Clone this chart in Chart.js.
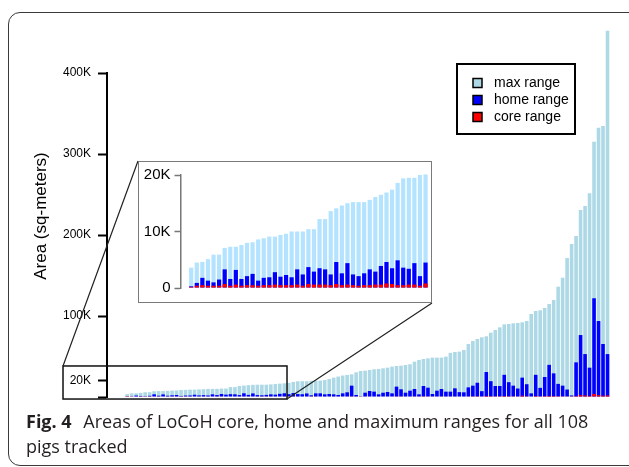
<!DOCTYPE html>
<html>
<head>
<meta charset="utf-8">
<script src="https://cdn.jsdelivr.net/npm/chart.js@4.4.1/dist/chart.umd.min.js"></script>
<style>
  html, body { margin: 0; padding: 0; width: 629px; height: 467px; overflow: hidden; background: #fff; }
  #frame { position: absolute; left: 8px; top: 12px; width: 640px; height: 452px; border: 1px solid #3a3a3a; border-radius: 12px; }
  #main { position: absolute; left: 0; top: 0; }
  #insetBox { position: absolute; left: 138px; top: 161px; width: 294px; height: 142px; box-sizing: border-box; border: 1.5px solid #7a7a7a; background: #fff; }
  #inset { position: absolute; left: 0; top: 0; }
  #caption { position: absolute; left: 26px; top: 409px; width: 600px; font-family: "Open Sans", sans-serif; font-size: 18px; line-height: 25px; color: #231f20; }
  #caption b { font-weight: 700; margin-right: 7px; }
</style>
</head>
<body>
<div id="frame"></div>
<canvas id="main" width="629" height="467"></canvas>
<div id="insetBox"><canvas id="inset" width="291" height="139"></canvas></div>
<div id="caption"><b>Fig. 4</b> Areas of LoCoH core, home and maximum ranges for all 108<br>pigs tracked</div>
<script>
// pigs ranked by max range (1..108)
const PIG_RANK = Array.from({ length: 108 }, (_, i) => i + 1);

// areas in sq-meters
const maxRange = [
  3600, 4500, 4600, 5100, 5900, 5900, 7100, 7300, 7300, 7600,
  8000, 8100, 8600, 8800, 9100, 9100, 9400, 9600, 10000, 10000,
  10000, 10400, 10400, 12200, 12200, 13600, 14100, 14600, 15000, 15200,
  15200, 15200, 15600, 16100, 16500, 16900, 17400, 18600, 19400, 19500,
  19500, 20000, 20100, 20300, 20900, 22200, 23900, 25200, 26500, 27200,
  28000, 30500, 32100, 32500, 33300, 34200, 34600, 35400, 36200, 37500,
  38300, 38700, 39500, 40400, 43600, 45700, 46900, 47700, 48600, 48600,
  48600, 49800, 54500, 55500, 56000, 58000, 65400, 69100, 71600, 73700,
  74900, 79400, 82700, 86000, 89700, 90100, 91000, 91400, 92200, 93800,
  102500, 106200, 107000, 109900, 114800, 119800, 136200, 147300, 171600, 188900,
  198800, 230900, 235800, 251400, 315200, 332500, 334600, 452300
];
const homeRange = [
  300, 900, 1800, 1300, 1000, 1500, 3300, 1600, 3200, 1600,
  2100, 2500, 1300, 1800, 1900, 2800, 2000, 2300, 1900, 3300,
  2400, 3700, 2900, 3500, 3300, 2400, 4600, 2600, 4400, 2400,
  2100, 2600, 3300, 2900, 3900, 4600, 3500, 4900, 3600, 3400,
  4400, 2100, 4500, 4500, 3300, 3700, 3300, 2500, 4500, 5800,
  14000, 2500, 400, 5300, 7400, 6600, 3300, 5300, 6200, 4500,
  12800, 9500, 5300, 7800, 9900, 3300, 13600, 11500, 3700, 7800,
  9900, 6600, 6600, 10700, 6000, 5800, 11900, 14000, 17600, 7200,
  30900, 19500, 13600, 13600, 27400, 18300, 14000, 10500, 23900, 15800,
  4500, 27400, 11300, 24700, 39700, 29200, 16200, 14000, 9200, 1900,
  42800, 76500, 53000, 36200, 121900, 93800, 65400, 53000
];
const coreRange = [
  200, 400, 500, 400, 400, 400, 700, 400, 600, 400,
  500, 500, 400, 500, 500, 600, 500, 500, 500, 600,
  400, 700, 600, 600, 600, 500, 700, 500, 600, 500,
  400, 500, 500, 600, 600, 800, 700, 500, 500, 600,
  600, 400, 800, 600, 500, 600, 500, 500, 600, 700,
  900, 500, 300, 600, 700, 600, 500, 600, 700, 600,
  900, 800, 600, 700, 800, 500, 900, 800, 500, 700,
  800, 700, 700, 800, 600, 600, 800, 900, 1000, 700,
  1300, 1000, 900, 900, 1200, 1000, 900, 800, 1600, 1000,
  600, 1200, 900, 1100, 1400, 1200, 1000, 900, 800, 400,
  1300, 2200, 1900, 1400, 3800, 2200, 1600, 2000
];

const SERIES_LABELS = ['max range', 'home range', 'core range'];
const MAIN_TICKS = [0, 20000, 100000, 200000, 300000, 400000];
const INSET_TICKS = [0, 10000, 20000];
const INSET_COUNT = 43;

const MAIN_COLORS = ['#add8e6', '#0000ff', '#ff0000'];
const INSET_COLORS = ['#b3e3ff', '#0000ff', '#ff0000'];

// zoom rectangle on the main chart, in main-chart data units
const ZOOM_RECT = { x0: -13.3, x1: 36.6, y0: -2500, y1: 38300 };

function makeDatasets(n, colors) {
  const series = [maxRange, homeRange, coreRange];
  return series.map((s, i) => ({
    label: SERIES_LABELS[i],
    data: s.slice(0, n).map((y, j) => ({ x: PIG_RANK[j], y: y })),
    backgroundColor: colors[i],
    borderWidth: 0,
    grouped: false,
    clip: false,
    order: 3 - i
  }));
}

const zoomPlugin = {
  id: 'zoomRect',
  afterDatasetsDraw(chart) {
    const { ctx, scales: { x, y } } = chart;
    const l = x.getPixelForValue(ZOOM_RECT.x0);
    const r = x.getPixelForValue(ZOOM_RECT.x1);
    const t = y.getPixelForValue(ZOOM_RECT.y1);
    const b = y.getPixelForValue(ZOOM_RECT.y0);
    const box = document.getElementById('insetBox').getBoundingClientRect();
    const cv = chart.canvas.getBoundingClientRect();
    ctx.save();
    ctx.strokeStyle = '#111';
    ctx.lineWidth = 1.5;
    ctx.strokeRect(l, t, r - l, b - t);
    ctx.lineWidth = 1.2;
    ctx.strokeStyle = '#222';
    ctx.beginPath();
    ctx.moveTo(l, t);
    ctx.lineTo(box.left - cv.left, box.top - cv.top);
    ctx.moveTo(r, b);
    ctx.lineTo(box.right - cv.left, box.bottom - cv.top);
    ctx.stroke();
    ctx.restore();
  }
};

const legendPlugin = {
  id: 'boxLegend',
  afterDraw(chart) {
    const ctx = chart.ctx;
    const bx = 457, by = 64, bw = 118, bh = 70;
    ctx.save();
    ctx.fillStyle = '#fff';
    ctx.fillRect(bx, by, bw, bh);
    ctx.strokeStyle = '#000';
    ctx.lineWidth = 2;
    ctx.strokeRect(bx, by, bw, bh);
    ctx.font = '14px "Liberation Sans", Arial, sans-serif';
    ctx.textBaseline = 'middle';
    chart.data.datasets.forEach((ds, i) => {
      const cy = by + 19 + i * 17;
      ctx.fillStyle = ds.backgroundColor;
      ctx.fillRect(bx + 16, cy - 4.5, 9, 9);
      ctx.lineWidth = 1.5;
      ctx.strokeRect(bx + 16, cy - 4.5, 9, 9);
      ctx.fillStyle = '#000';
      ctx.fillText(ds.label, bx + 37, cy);
    });
    ctx.restore();
  }
};

const yTitlePlugin = {
  id: 'yTitle',
  afterDraw(chart) {
    const ctx = chart.ctx;
    ctx.save();
    ctx.translate(41, 216);
    ctx.rotate(-Math.PI / 2);
    ctx.font = '17px "Liberation Sans", Arial, sans-serif';
    ctx.fillStyle = '#000';
    ctx.textAlign = 'center';
    ctx.textBaseline = 'middle';
    ctx.fillText('Area (sq-meters)', 0, 0);
    ctx.restore();
  }
};

function kLabel(v) {
  return v === 0 ? '' : (v / 1000) + 'K';
}

new Chart(document.getElementById('main'), {
  type: 'bar',
  data: { datasets: makeDatasets(PIG_RANK.length, MAIN_COLORS) },
  options: {
    responsive: false,
    animation: false,
    layout: { padding: { top: 73, bottom: 70, left: 0, right: 17 } },
    datasets: { bar: { categoryPercentage: 1, barPercentage: 0.8 } },
    plugins: { legend: { display: false }, tooltip: { enabled: false } },
    scales: {
      x: { type: 'linear', display: false, offset: false, min: -3.5, max: 109 },
      y: {
        min: 0,
        max: 400000,
        afterFit(s) { s.width = 107; },
        afterBuildTicks(s) { s.ticks = MAIN_TICKS.map(v => ({ value: v })); },
        ticks: { callback: kLabel, color: '#000', padding: 7, font: { family: 'Liberation Sans', size: 12 } },
        grid: { drawOnChartArea: false, drawTicks: true, tickLength: 9, tickWidth: 2, tickColor: '#000' },
        border: { display: true, color: '#000', width: 2 }
      }
    }
  },
  plugins: [zoomPlugin, legendPlugin, yTitlePlugin]
});

new Chart(document.getElementById('inset'), {
  type: 'bar',
  data: { datasets: makeDatasets(INSET_COUNT, INSET_COLORS) },
  options: {
    responsive: false,
    animation: false,
    layout: { padding: { top: 9.5, bottom: 8.5, left: 0, right: 0 } },
    datasets: { bar: { categoryPercentage: 1, barPercentage: 0.75 } },
    plugins: { legend: { display: false }, tooltip: { enabled: false } },
    scales: {
      x: { type: 'linear', display: false, offset: false, min: -0.92, max: 43.8 },
      y: {
        min: 0,
        max: 20000,
        afterFit(s) { s.width = 41.5; },
        afterBuildTicks(s) { s.ticks = INSET_TICKS.map(v => ({ value: v })); },
        ticks: { callback: v => v === 0 ? '0' : (v / 1000) + 'K', color: '#000', padding: 4, font: { family: 'Liberation Sans', size: 15 } },
        grid: { drawOnChartArea: false, drawTicks: true, tickLength: 6, tickWidth: 1.5, tickColor: '#777' },
        border: { display: true, color: '#777', width: 1.5 }
      }
    }
  }
});
</script>
</body>
</html>
